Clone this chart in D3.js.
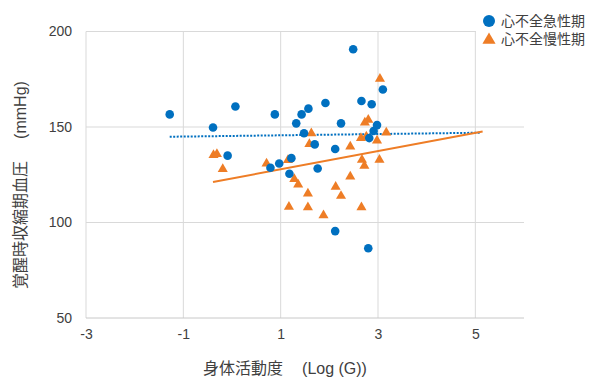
<!DOCTYPE html>
<html>
<head>
<meta charset="utf-8">
<script src="https://cdn.jsdelivr.net/npm/d3@7"></script>
<style>
  body { margin: 0; background: #fff; }
  svg { font-family: "Liberation Sans", Arial, "Noto Sans CJK JP", sans-serif; }
</style>
</head>
<body>
<div class="chart"></div>
<script>
// series: acute heart failure (circles)
const acuteX = [-1.28, -0.39, 0.07, -0.09, 0.88, 0.79, 0.97, 1.18, 1.22, 1.32, 1.43, 1.48, 1.57, 1.70, 1.76, 1.92, 2.12, 2.12, 2.24, 2.49, 2.66, 2.87, 2.82, 2.91, 2.98, 3.10, 2.80];
const acuteY = [156.6, 149.7, 160.7, 135.0, 156.6, 128.7, 130.9, 125.5, 133.7, 151.9, 156.6, 146.7, 159.6, 140.9, 128.3, 162.6, 138.5, 95.5, 151.9, 190.7, 163.6, 161.9, 144.2, 147.9, 151.0, 169.6, 86.5];

// series: chronic heart failure (triangles)
const chronicX = [-0.38, -0.31, -0.19, 0.71, 1.15, 1.17, 1.28, 1.36, 1.56, 1.56, 1.59, 1.63, 1.88, 2.13, 2.24, 2.43, 2.43, 2.66, 2.67, 2.72, 2.65, 2.76, 2.73, 2.80, 2.98, 3.03, 3.04, 3.17];
const chronicY = [135.3, 135.8, 128.0, 130.9, 132.7, 108.2, 122.7, 119.9, 115.2, 107.9, 141.1, 146.7, 103.8, 118.7, 113.9, 124.0, 139.8, 108.0, 132.8, 129.7, 144.2, 145.0, 152.3, 153.7, 142.9, 132.8, 175.2, 147.1];

// linear trend lines (end points)
const acuteTrendX = [-1.28, 5.10];
const acuteTrendY = [144.9, 147.0];
const chronicTrendX = [-0.39, 5.15];
const chronicTrendY = [121.2, 147.6];

const xTicks = [-3, -1, 1, 3, 5];
const yTicks = [50, 100, 150, 200];
const seriesNames = ['心不全急性期', '心不全慢性期'];
const xTitle = ['身体活動度', '(Log (G))'];
const yTitle = ['覚醒時収縮期血圧', '(mmHg)'];

const width = 589, height = 377;
const margin = { left: 86, right: 65, top: 31.5, bottom: 59 };
const blue = '#0070C0';
const orange = '#EE7D26';
const gridColor = '#d9d9d9';
const textColor = '#404040';
const font = '"Liberation Sans", Arial, "Noto Sans CJK JP", sans-serif';

const svg = d3.select('.chart')
  .append('svg')
  .attr('width', width)
  .attr('height', height);

const x = d3.scaleLinear()
  .domain([-3, 6])
  .range([margin.left, width - margin.right]);

const y = d3.scaleLinear()
  .domain([50, 200])
  .range([height - margin.bottom, margin.top]);

// gridlines
svg.append('g')
  .selectAll('line')
  .data(xTicks)
  .join('line')
  .attr('x1', d => x(d)).attr('x2', d => x(d))
  .attr('y1', y(200)).attr('y2', y(50))
  .attr('stroke', gridColor)
  .attr('stroke-width', 1);

svg.append('g')
  .selectAll('line')
  .data(yTicks)
  .join('line')
  .attr('x1', x(-3)).attr('x2', x(6))
  .attr('y1', d => y(d)).attr('y2', d => y(d))
  .attr('stroke', d => d === 50 ? '#c8c8c8' : gridColor)
  .attr('stroke-width', 1);

// axes (labels only)
const xAxis = d3.axisBottom(x).tickValues(xTicks).tickSize(0).tickPadding(11)
  .tickFormat(d => String(d));
const yAxis = d3.axisLeft(y).tickValues(yTicks).tickSize(0).tickPadding(14);

svg.append('g')
  .attr('transform', `translate(0, ${y(50)})`)
  .call(xAxis)
  .call(g => g.select('.domain').remove())
  .call(g => g.selectAll('text').attr('font-size', 14).attr('fill', textColor)
    .attr('font-family', font));

svg.append('g')
  .attr('transform', `translate(${x(-3)}, 0)`)
  .call(yAxis)
  .call(g => g.select('.domain').remove())
  .call(g => g.selectAll('text').attr('font-size', 14).attr('fill', textColor)
    .attr('font-family', font));

// trend lines
const line = d3.line().x(d => x(d[0])).y(d => y(d[1]));

svg.append('path')
  .datum(d3.zip(acuteTrendX, acuteTrendY))
  .attr('d', line)
  .attr('fill', 'none')
  .attr('stroke', blue)
  .attr('stroke-width', 2)
  .attr('stroke-dasharray', '2,1.5');

svg.append('path')
  .datum(d3.zip(chronicTrendX, chronicTrendY))
  .attr('d', line)
  .attr('fill', 'none')
  .attr('stroke', orange)
  .attr('stroke-width', 2);

// markers
const tri = d3.symbol().type(d3.symbolTriangle).size(44);

svg.append('g')
  .selectAll('path')
  .data(d3.zip(chronicX, chronicY))
  .join('path')
  .attr('d', tri)
  .attr('transform', d => `translate(${x(d[0])}, ${y(d[1])})`)
  .attr('fill', orange);

svg.append('g')
  .selectAll('circle')
  .data(d3.zip(acuteX, acuteY))
  .join('circle')
  .attr('cx', d => x(d[0]))
  .attr('cy', d => y(d[1]))
  .attr('r', 4.3)
  .attr('fill', blue);

// legend (white box over the plot corner)
const legend = svg.append('g');
legend.append('rect')
  .attr('x', 476).attr('y', 0)
  .attr('width', width - 476).attr('height', 53)
  .attr('fill', '#fff');

const items = legend.selectAll('g')
  .data(seriesNames)
  .join('g')
  .attr('transform', (d, i) => `translate(489, ${21 + i * 18})`);

items.filter((d, i) => i === 0)
  .append('circle').attr('r', 6).attr('fill', blue);
items.filter((d, i) => i === 1)
  .append('path').attr('d', d3.symbol().type(d3.symbolTriangle).size(75))
  .attr('transform', 'translate(0, 1)')
  .attr('fill', orange);

items.append('text')
  .attr('x', 12)
  .attr('y', 5)
  .attr('font-size', 14)
  .attr('fill', textColor)
  .attr('font-family', font)
  .text(d => d);

// axis titles
const xt = svg.append('text')
  .attr('x', 285)
  .attr('y', 374)
  .attr('text-anchor', 'middle')
  .attr('font-size', 16)
  .attr('fill', textColor)
  .attr('font-family', font);
xt.append('tspan').text(xTitle[0]);
xt.append('tspan').attr('dx', 19).text(xTitle[1]);

const yt = svg.append('text')
  .attr('transform', `translate(26, 185) rotate(-90)`)
  .attr('text-anchor', 'middle')
  .attr('font-size', 16)
  .attr('fill', textColor)
  .attr('font-family', font);
yt.append('tspan').text(yTitle[0]);
yt.append('tspan').attr('dx', 22).text(yTitle[1]);
</script>
</body>
</html>
